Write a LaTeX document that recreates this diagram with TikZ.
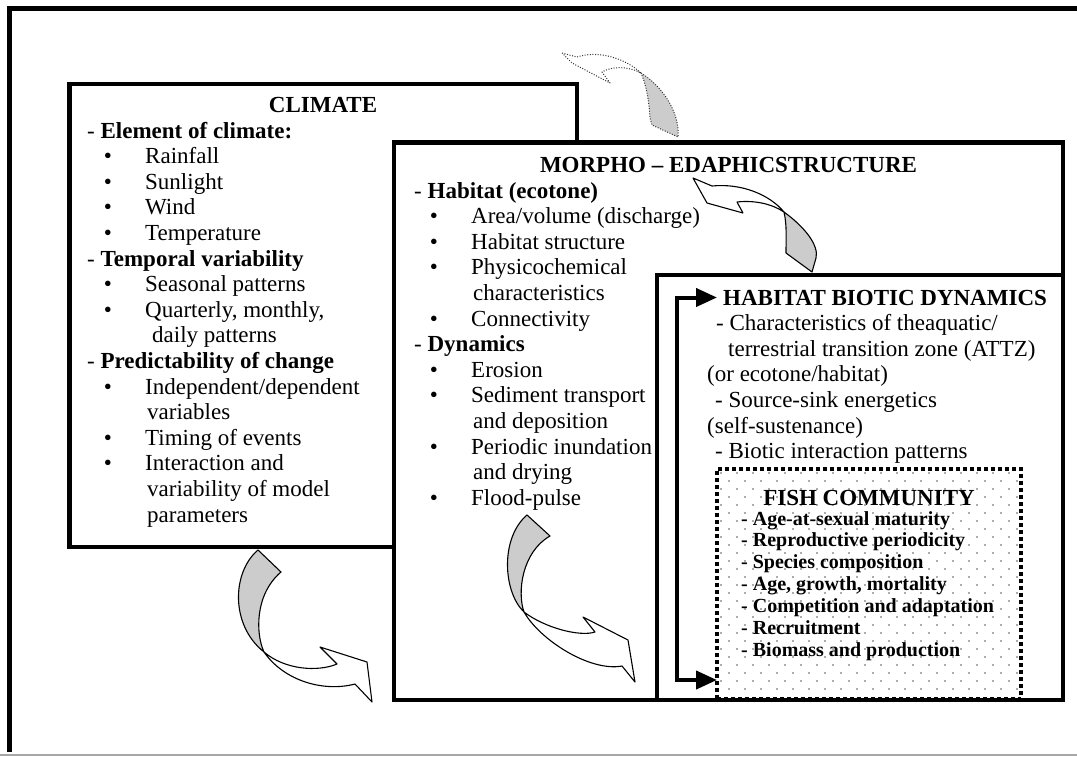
\documentclass[tikz,border=0pt]{standalone}
\usepackage{fontspec}
\setmainfont{Liberation Serif}
\usetikzlibrary{arrows.meta}
\tikzset{
  boxline/.style={draw=black, line width=4.3pt, fill=white, line join=miter},
  habline/.style={draw=black, line width=3.3pt, fill=white, line join=miter},
  txt/.style={anchor=base west, inner sep=0pt, font=\fontsize{23}{25.6}\selectfont},
  ttl/.style={anchor=base, inner sep=0pt, font=\fontsize{23}{25.6}\selectfont\bfseries},
  ttlw/.style={anchor=base west, inner sep=0pt, font=\fontsize{23}{25.6}\selectfont\bfseries},
  bul/.style={anchor=base, inner sep=0pt, font=\fontsize{23}{25.6}\selectfont},
  fishtxt/.style={anchor=base west, inner sep=0pt, font=\fontsize{20}{21.9}\selectfont\bfseries},
  fishbox/.style={draw=black, line width=3.5pt, dash pattern=on 4pt off 3pt, minimum width=304pt, minimum height=230pt, inner sep=0pt, outer sep=0pt},
  ribbon/.style={draw=black, line width=1.1pt, fill=white, line join=round},
  ribbongray/.style={ribbon, fill=black!20},
  dotribbon/.style={draw=black!80, line width=1pt, dash pattern=on 1pt off 1.6pt, fill=white, line join=round},
  dotribbongray/.style={dotribbon, fill=black!20},
  conn/.style={draw=black, line width=4pt, line join=miter, {Triangle[length=21pt,width=18pt]}-{Triangle[length=21pt,width=18pt]}},
}
\begin{document}
\begin{tikzpicture}[x=1pt,y=-1pt]
\useasboundingbox (0,0) rectangle (1077,756);
\fill[white] (0,0) rectangle (1077,756);
% outer frame
\draw[line width=5pt, line join=miter] (9,752) -- (9,8.5) -- (1077,8.5);
\draw[black!35, line width=1.5pt] (0,755) -- (1077,755);

% boxes
\draw[boxline] (69.5,84) rectangle (577,547);
\draw[boxline] (394,142.5) rectangle (1063,700);
\draw[habline] (657,275) rectangle (1063,700);

% arrow 1 (top, dotted)
\draw[dotribbon] (562,53) -- (577,57) .. controls (598,50) and (625,58) .. (641,73)
  .. controls (628,66) and (612,66) .. (602,72) -- (610,83) -- (572,63) -- cycle;
\draw[dotribbongray] (641,73) .. controls (662,86) and (680,112) .. (678,137)
  -- (652,125) -- (650,118) .. controls (649,100) and (646,84) .. (641,73) -- cycle;

% arrow 2 (morpho -> habitat)
\draw[ribbon] (693,178) -- (712,186) .. controls (742,183) and (770,195) .. (784,212)
  .. controls (772,204) and (755,200) .. (737,202) -- (743,213) -- (707,203) -- cycle;
\draw[ribbongray] (784,212) .. controls (806,228) and (819,246) .. (816,258)
  -- (812,272) -- (786,253) .. controls (786,238) and (787,225) .. (784,212) -- cycle;

% arrow 3 (climate -> morpho)
\draw[ribbongray] (258,550) .. controls (232,572) and (230,625) .. (264,652)
  .. controls (256,635) and (254,595) .. (281,572) -- cycle;
\draw[ribbon] (264,652) .. controls (285,682) and (325,692) .. (355,684)
  -- (372,702) -- (367,662) -- (320,647) -- (337,664)
  .. controls (318,672) and (285,670) .. (264,652) -- cycle;

% arrow 4 (morpho -> habitat, bottom)
\draw[ribbongray] (527,515) .. controls (500,538) and (503,592) .. (524,612)
  .. controls (517,592) and (522,552) .. (550,536) -- cycle;
\draw[ribbon] (524,612) .. controls (540,640) and (590,672) .. (622,666)
  -- (635,682) -- (628,640) -- (583,617) -- (595,632)
  .. controls (580,637) and (545,628) .. (524,612) -- cycle;

% fish community box
\node[fishbox, anchor=north west] (fishbox) at (717,469) {};
\foreach \j in {0,...,27}{
  \foreach \i in {0,...,18}{
    \pgfmathsetmacro{\dx}{721+16*\i+8*mod(\j,2)}
    \pgfmathsetmacro{\dy}{473+8*\j}
    \fill[black!65] (\dx,\dy) circle (0.85pt);
  }
}

% CLIMATE text
\node[ttl] (cT) at (323,112.4) {CLIMATE};
\foreach \x/\k/\t [count=\n] in {
  87/0/{- \textbf{Element of climate:}},
  145/1/{Rainfall},
  145/2/{Sunlight},
  145/3/{Wind},
  145/4/{Temperature},
  87/5/{- \textbf{Temporal variability}},
  145/6/{Seasonal patterns},
  145/7/{Quarterly, monthly,},
  152/8/{daily patterns},
  87/9/{- \textbf{Predictability of change}},
  145/10/{Independent/dependent},
  147/11/{variables},
  145/12/{Timing of events},
  145/13/{Interaction and},
  147/14/{variability of model},
  147/15/{parameters}}
  \node[txt] (c\n) at (\x,{138+25.6*\k}) {\t};
\foreach \k [count=\n] in {1,2,3,4,6,7,10,12,13}
  \node[bul] (cb\n) at (108,{138+25.6*\k}) {•};

% MORPHO text
\node[ttl] (mT) at (728.5,172.5) {MORPHO – EDAPHICSTRUCTURE};
\foreach \x/\k/\t [count=\n] in {
  414/1/{- \textbf{Habitat (ecotone)}},
  471/2/{Area/volume (discharge)},
  471/3/{Habitat structure},
  471/4/{Physicochemical},
  473/5/{characteristics},
  471/6/{Connectivity},
  414/7/{- \textbf{Dynamics}},
  471/8/{Erosion},
  471/9/{Sediment transport},
  473/10/{and deposition},
  471/11/{Periodic inundation},
  473/12/{and drying},
  471/13/{Flood-pulse}}
  \node[txt] (m\n) at (\x,{172.5+25.6*\k}) {\t};
\foreach \k [count=\n] in {2,3,4,6,8,9,11,13}
  \node[bul] (mb\n) at (434,{172.5+25.6*\k}) {•};

% HABITAT text
\node[ttlw] (htitle) at (723,305) {HABITAT BIOTIC DYNAMICS};
\foreach \x/\k/\t [count=\n] in {
  716/1/{- Characteristics of theaquatic/},
  728/2/{terrestrial transition zone (ATTZ)},
  707/3/{(or ecotone/habitat)},
  715/4/{- Source-sink energetics},
  707/5/{(self-sustenance)},
  715/6/{- Biotic interaction patterns}}
  \node[txt] (h\n) at (\x,{305+25.6*\k}) {\t};

% FISH text
\node[ttl] (fT) at (869,505) {FISH COMMUNITY};
\foreach \k/\t [count=\n] in {
  0/{- Age-at-sexual maturity},
  1/{- Reproductive periodicity},
  2/{- Species composition},
  3/{- Age, growth, mortality},
  4/{- Competition and adaptation},
  5/{- Recruitment},
  6/{- Biomass and production}}
  \node[fishtxt] (f\n) at (741,{525+21.9*\k}) {\t};

% connector
\coordinate (cBot) at (677,680);
\draw[conn, shorten <=6pt] (htitle.west) -- (htitle.west -| cBot) -- (cBot) -- (cBot -| fishbox.west);
\end{tikzpicture}
\end{document}
